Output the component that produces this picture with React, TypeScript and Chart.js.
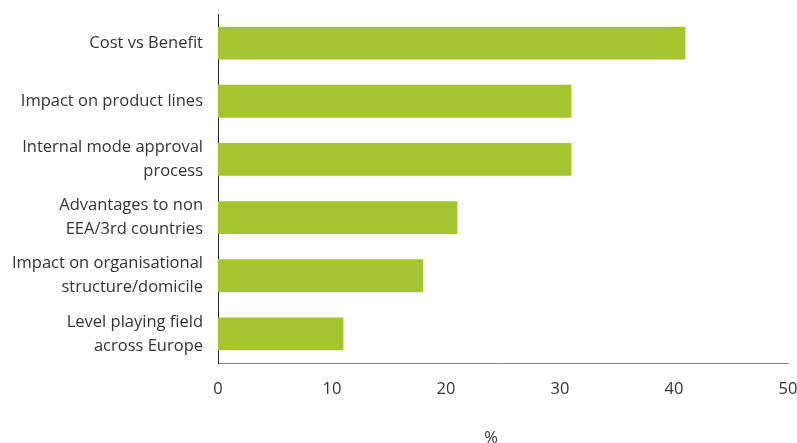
import React, { useEffect, useRef } from "react";
import { Chart, registerables } from "chart.js";

Chart.register(...registerables);

const categories: string[][] = [
  ["Cost vs Benefit"],
  ["Impact on product lines"],
  ["Internal mode approval", "process"],
  ["Advantages to non", "EEA/3rd countries"],
  ["Impact on organisational", "structure/domicile"],
  ["Level playing field", "across Europe"],
];
const values: number[] = [41, 31, 31, 21, 18, 11];
const xMin = 0;
const xMax = 50;
const xStep = 10;
const xTitle = "%";

const FONT = "'Open Sans', 'DejaVu Sans', sans-serif";
const FSIZE = 16.5;

const percentTitle = {
  id: "percentTitle",
  afterDraw(chart: any) {
    const xs = chart.scales.x;
    const ctx = chart.ctx;
    ctx.save();
    ctx.font = `${FSIZE}px ${FONT}`;
    ctx.fillStyle = "#333333";
    ctx.textAlign = "center";
    ctx.textBaseline = "middle";
    ctx.fillText(xTitle, xs.left + (xs.right - xs.left) * 0.479, 438);
    ctx.restore();
  },
};

export default function App() {
  const ref = useRef<HTMLCanvasElement | null>(null);
  useEffect(() => {
    if (!ref.current) return;
    const chart = new Chart(ref.current, {
      type: "bar",
      data: {
        labels: categories,
        datasets: [
          {
            data: values,
            backgroundColor: "#a5c42f",
            borderWidth: 0,
            categoryPercentage: 1,
            barPercentage: 0.565,
          },
        ],
      },
      options: {
        indexAxis: "y",
        animation: false,
        responsive: false,
        maintainAspectRatio: false,
        layout: { padding: { top: 14, right: 9, left: 0, bottom: 0 } },
        plugins: {
          legend: { display: false },
          tooltip: { enabled: false },
          title: { display: false },
        },
        scales: {
          x: {
            min: xMin,
            max: xMax,
            grid: { display: false, drawTicks: false },
            border: { display: true, color: "#888888", width: 1 },
            ticks: {
              stepSize: xStep,
              color: "#333333",
              font: { family: FONT, size: FSIZE },
              padding: 16,
              maxRotation: 0,
            },
            afterFit(scale: any) {
              scale.height = 80;
              scale.paddingLeft = 0;
              scale.paddingRight = 0;
            },
          },
          y: {
            grid: { display: false, drawTicks: false },
            border: { display: true, color: "#222222", width: 1 },
            ticks: {
              color: "#333333",
              font: { family: FONT, size: FSIZE, lineHeight: 1.45 },
              padding: 15,
            },
            afterFit(scale: any) {
              scale.width = 218;
              scale.paddingTop = 0;
              scale.paddingBottom = 0;
            },
          },
        },
      },
      plugins: [percentTitle],
    });
    return () => chart.destroy();
  }, []);
  return (
    <div style={{ position: "fixed", left: 0, top: 0, width: 797, height: 443, background: "#fff" }}>
      <canvas ref={ref} width={797} height={443} style={{ width: 797, height: 443 }} />
    </div>
  );
}
